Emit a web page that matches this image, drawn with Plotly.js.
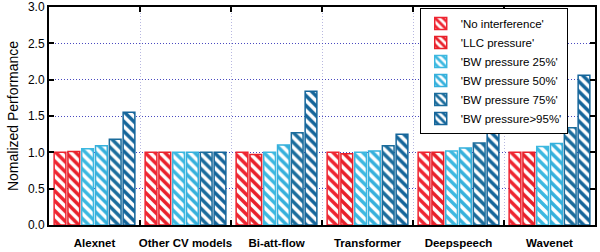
<!DOCTYPE html>
<html>
<head>
<meta charset="utf-8">
<script src="https://cdn.plot.ly/plotly-3.0.1.min.js"></script>
<style>html,body{margin:0;padding:0;background:#fff;}#chart{width:600px;height:252px;}</style>
</head>
<body>
<div id="chart"></div>
<script>
const categories = ['Alexnet', 'Other CV models', 'Bi-att-flow', 'Transformer', 'Deepspeech', 'Wavenet'];
const seriesNames = ["'No interference'", "'LLC pressure'", "'BW pressure 25%'", "'BW pressure 50%'", "'BW pressure 75%'", "'BW pressure>95%'"];
const noInterference = [1.00, 1.00, 1.00, 1.00, 1.00, 1.00];
const llcPressure    = [1.01, 1.00, 0.97, 0.98, 1.00, 1.00];
const bw25           = [1.05, 1.00, 1.00, 1.00, 1.02, 1.08];
const bw50           = [1.09, 1.00, 1.10, 1.02, 1.06, 1.12];
const bw75           = [1.18, 1.00, 1.27, 1.09, 1.13, 1.34];
const bw95           = [1.55, 1.00, 1.84, 1.25, 1.27, 2.06];
const yTicks = [0, 0.5, 1, 1.5, 2, 2.5, 3];

const seriesValues = [noInterference, llcPressure, bw25, bw50, bw75, bw95];
const colors = ['#ee2430', '#e8202a', '#3cb8e0', '#35b0dc', '#1b6c9c', '#14659a'];

const traces = seriesValues.map((vals, i) => ({
  type: 'bar',
  name: seriesNames[i],
  x: categories,
  y: vals,
  marker: {
    color: colors[i],
    line: {color: colors[i], width: 1.5},
    pattern: {shape: '\\', fgcolor: colors[i], bgcolor: '#ffffff', size: 7, solidity: 0.5}
  }
}));

const layout = {
  width: 600, height: 252,
  margin: {l: 49, r: 5, t: 7, b: 27},
  paper_bgcolor: '#ffffff', plot_bgcolor: '#ffffff',
  font: {family: '"Liberation Sans", Arial, sans-serif', size: 12, color: '#000'},
  barmode: 'group',
  bargap: 0.09,
  bargroupgap: 0.15,
  showlegend: true,
  legend: {
    x: 0.679, y: 0.995, xanchor: 'left', yanchor: 'top',
    bgcolor: '#ffffff', bordercolor: '#000', borderwidth: 1,
    font: {size: 11.5, family: '"Liberation Sans", Arial, sans-serif'},
    tracegroupgap: 0, itemwidth: 30
  },
  xaxis: {
    type: 'category',
    tickson: 'boundaries',
    tickangle: 0,
    ticks: 'inside', ticklen: 5, tickwidth: 2, tickcolor: '#000',
    showline: true, linecolor: '#000', linewidth: 2, mirror: 'ticks',
    showgrid: true, gridcolor: '#b8b8e0', gridwidth: 1, griddash: '1px,2px',
    tickfont: {size: 11.5, weight: 'bold'},
    ticklabelstandoff: 6,
    automargin: false
  },
  yaxis: {
    range: [0, 3],
    tickvals: yTicks,
    tickformat: '.1f',
    ticks: 'inside', ticklen: 5, tickwidth: 2, tickcolor: '#000',
    showline: true, linecolor: '#000', linewidth: 2, mirror: 'ticks',
    showgrid: true, gridcolor: '#4a4ac0', gridwidth: 1, griddash: '1px,2px',
    zeroline: false,
    ticklabeloverflow: 'allow',
    tickfont: {size: 12},
    automargin: false,
    title: {text: 'Nomalized Performance', font: {size: 14}, standoff: 6}
  }
};

Plotly.newPlot('chart', traces, layout, {displayModeBar: false, staticPlot: true});
</script>
</body>
</html>
